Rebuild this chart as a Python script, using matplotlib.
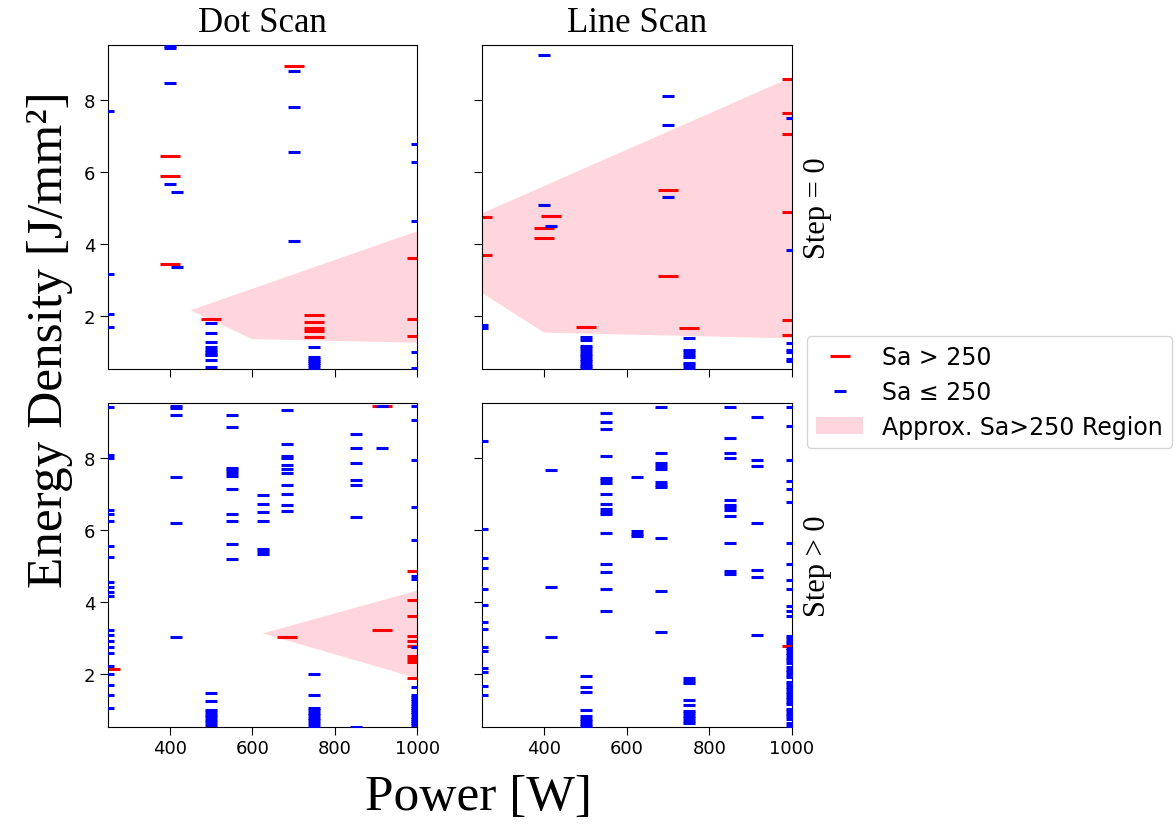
import matplotlib
matplotlib.use("Agg")
import matplotlib.pyplot as plt
from matplotlib.lines import Line2D
from matplotlib.patches import Patch

# power levels [W] and energy densities [J/mm^2] read per column
# Dot scan, step = 0
dot0_hi_power = [400, 500, 700, 750, 1000]
dot0_hi_energy = [[6.45, 5.88, 3.45], [1.92], [8.93],
                  [2.03, 1.83, 1.66, 1.57, 1.40], [3.59, 1.92, 1.45]]
dot0_lo_power = [250, 400, 418, 500, 700, 750, 1000]
dot0_lo_energy = [[7.69, 3.17, 2.06, 1.69],
                  [9.50, 9.45, 8.46, 5.65],
                  [5.45, 3.35],
                  [1.80, 1.53, 1.26, 1.12, 1.06, 1.00, 0.94, 0.90, 0.76, 0.58],
                  [8.79, 7.79, 6.55, 4.08],
                  [1.14, 0.86, 0.80, 0.74, 0.68, 0.62, 0.56],
                  [6.78, 6.27, 4.64, 1.00, 0.55]]

# Line scan, step = 0
line0_hi_power = [250, 400, 416, 500, 700, 750, 1000]
line0_hi_energy = [[4.74, 3.69], [4.44, 4.16], [4.78], [1.70], [5.49, 3.11],
                   [1.65], [8.58, 7.63, 7.06, 4.88, 1.88, 1.46]]
line0_lo_power = [250, 400, 416, 500, 700, 750, 1000]
line0_lo_energy = [[1.74, 1.66],
                   [9.25, 5.07],
                   [4.50],
                   [1.40, 1.33, 1.16, 1.09, 1.02, 0.95, 0.88, 0.81, 0.74,
                    0.67, 0.60, 0.55],
                   [8.10, 7.29, 5.30],
                   [1.37, 1.05, 0.98, 0.91, 0.84, 0.69, 0.62, 0.55],
                   [7.49, 3.83, 1.23, 1.05, 0.98, 0.80, 0.73]]

# Dot scan, step > 0
dot1_hi_power = [255, 683, 915, 1000]
dot1_hi_energy = [[2.12], [3.02], [9.45, 3.21],
                  [4.84, 4.06, 3.59, 3.05, 2.92, 2.77, 2.50, 2.40, 2.32, 1.89]]
dot1_lo_power = [250, 415, 500, 550, 625, 683, 750, 850, 915, 1000]
dot1_lo_energy = [[9.40, 8.08, 7.98, 6.54, 6.45, 6.24, 5.54, 5.24, 4.54, 4.41,
                   4.27, 4.15, 3.22, 3.07, 2.91, 2.75, 2.58, 2.22, 2.00, 1.70,
                   1.42, 1.04],
                  [9.45, 9.38, 9.18, 7.47, 6.20, 3.02],
                  [1.46, 1.23, 1.00, 0.93, 0.86, 0.79, 0.72, 0.65, 0.58],
                  [9.18, 8.84, 7.72, 7.65, 7.58, 7.50, 7.13, 6.43, 6.24, 5.59,
                   5.20],
                  [6.96, 6.72, 6.48, 6.24, 5.47, 5.40, 5.33],
                  [9.32, 8.37, 8.06, 7.98, 7.80, 7.70, 7.57, 7.23, 7.00, 6.68,
                   6.53],
                  [1.98, 1.41, 1.05, 0.98, 0.91, 0.84, 0.77, 0.70, 0.63, 0.56],
                  [8.65, 8.28, 7.86, 7.38, 7.24, 6.34, 0.52],
                  [9.43, 8.28],
                  [9.43, 9.04, 7.95, 6.62, 5.72, 4.72, 4.64, 2.75, 1.64, 1.41,
                   1.35, 1.29, 1.23, 1.17, 1.11, 1.05, 0.99, 0.93, 0.87, 0.81,
                   0.75, 0.69, 0.63, 0.57]]

# Line scan, step > 0
line1_hi_power = [1000]
line1_hi_energy = [[2.78]]
line1_lo_power = [250, 415, 500, 550, 625, 683, 750, 850, 915, 1000]
line1_lo_energy = [[8.47, 6.02, 5.21, 4.94, 4.36, 3.92, 3.44, 3.23, 2.75, 2.62,
                    2.15, 2.05, 1.66, 1.42],
                   [7.66, 4.40, 3.02],
                   [1.94, 1.64, 1.50, 1.00, 0.82, 0.75, 0.68, 0.61, 0.55],
                   [9.23, 8.99, 8.80, 8.05, 7.45, 7.38, 7.30, 7.00, 6.71, 6.58,
                    6.50, 6.43, 5.92, 5.06, 4.82, 4.36, 3.73],
                   [7.47, 5.96, 5.89, 5.82],
                   [9.41, 8.14, 7.84, 7.77, 7.70, 7.32, 7.25, 7.18, 5.77, 4.30,
                    3.16],
                   [1.87, 1.80, 1.73, 1.27, 1.13, 0.97, 0.90, 0.83, 0.76, 0.69,
                    0.62],
                   [9.41, 8.56, 8.14, 8.00, 6.82, 6.70, 6.63, 6.56, 6.39, 5.63,
                    4.84, 4.77],
                   [9.13, 7.95, 7.76, 6.20, 4.88, 4.68, 3.07],
                   [9.41, 8.89, 7.95, 7.35, 7.14, 6.76, 5.63, 5.05, 4.59, 4.36,
                    3.88, 3.73, 3.60, 3.05, 2.98, 2.91, 2.84, 2.72, 2.65, 2.58,
                    2.51, 2.44, 2.37, 2.30, 2.18, 2.11, 2.04, 1.97, 1.90, 1.78,
                    1.71, 1.64, 1.57, 1.50, 1.43, 1.36, 1.29, 1.22, 1.15, 1.03,
                    0.96, 0.89, 0.82, 0.75, 0.63, 0.56]]

# approximate Sa>250 regions (polygon corners)
dot0_region_x = [450, 600, 1000, 1000]
dot0_region_y = [2.15, 1.35, 1.25, 4.35]
line0_region_x = [250, 1000, 1000, 400, 250]
line0_region_y = [4.85, 8.63, 1.37, 1.53, 2.62]
dot1_region_x = [625, 1000, 1000]
dot1_region_y = [3.12, 4.31, 1.87]

col_titles = ["Dot Scan", "Line Scan"]
row_titles = ["Step = 0", "Step > 0"]

serif = "Liberation Serif"


def flatten(powers, energies):
    xs, ys = [], []
    for p, es in zip(powers, energies):
        xs += [p] * len(es)
        ys += es
    return xs, ys


panels = [
    [(dot0_hi_power, dot0_hi_energy, dot0_lo_power, dot0_lo_energy,
      dot0_region_x, dot0_region_y),
     (line0_hi_power, line0_hi_energy, line0_lo_power, line0_lo_energy,
      line0_region_x, line0_region_y)],
    [(dot1_hi_power, dot1_hi_energy, dot1_lo_power, dot1_lo_energy,
      dot1_region_x, dot1_region_y),
     (line1_hi_power, line1_hi_energy, line1_lo_power, line1_lo_energy,
      None, None)],
]

fig, axes = plt.subplots(2, 2, figsize=(11.76, 8.28), dpi=100,
                         sharex=True, sharey=True)
fig.subplots_adjust(left=0.0918, right=0.6735, top=0.9444, bottom=0.1208,
                    wspace=0.21, hspace=0.105)

for i in range(2):
    for j in range(2):
        ax = axes[i, j]
        hp, he, lp, le, rx, ry = panels[i][j]
        if rx is not None:
            ax.fill(rx, ry, color="pink", alpha=0.65, lw=0, zorder=1)
        x, y = flatten(hp, he)
        ax.plot(x, y, ls="none", marker="_", color="red", ms=14.5, mew=2.2,
                zorder=2)
        x, y = flatten(lp, le)
        ax.plot(x, y, ls="none", marker="_", color="blue", ms=9, mew=2.2,
                zorder=3)
        ax.tick_params(labelsize=13, length=5.5)
        if i == 0:
            ax.set_title(col_titles[j], fontsize=25, family=serif, pad=10)
        if j == 1:
            ax.text(1.035, 0.5, row_titles[i], transform=ax.transAxes,
                    rotation=90, va="center", ha="left", fontsize=22,
                    family=serif)

axes[0, 0].set_xlim(250, 1000)
axes[0, 0].set_ylim(0.52, 9.52)
axes[0, 0].set_xticks([400, 600, 800, 1000])
axes[0, 0].set_yticks([2, 4, 6, 8])

fig.text(0.407, 0.0217, "Power [W]", ha="center", va="baseline",
         fontsize=37, family=serif)
fig.text(0.062, 0.59, "Energy Density [J/mm²]", ha="right", va="center",
         rotation=90, fontsize=37, family=serif)

handles = [
    Line2D([], [], ls="none", marker="_", color="red", ms=14.5, mew=2.2,
           label="Sa > 250"),
    Line2D([], [], ls="none", marker="_", color="blue", ms=9, mew=2.2,
           label="Sa ≤ 250"),
    Patch(facecolor="pink", alpha=0.65, lw=0, label="Approx. Sa>250 Region"),
]
fig.legend(handles=handles, loc="upper left", bbox_to_anchor=(0.686, 0.593),
           borderaxespad=0, fontsize=17, labelspacing=0.45)

plt.savefig("out.png", dpi=100)
